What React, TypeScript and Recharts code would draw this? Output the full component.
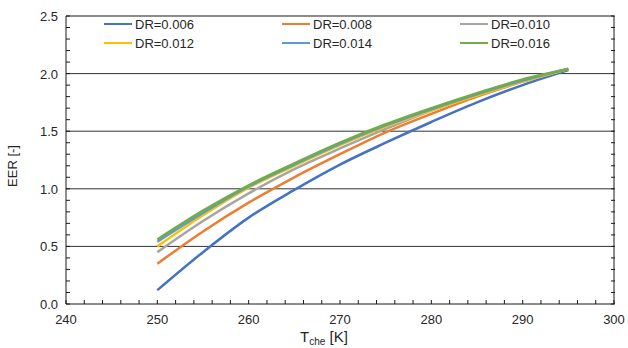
import { LineChart, Line, XAxis, YAxis, CartesianGrid, Label, ReferenceLine } from 'recharts';

const temps = [250, 255, 260, 265, 270, 275, 280, 285, 290, 295];
const dr006 = [0.12, 0.45, 0.75, 0.99, 1.21, 1.4, 1.58, 1.75, 1.9, 2.03];
const dr008 = [0.35, 0.63, 0.88, 1.1, 1.3, 1.49, 1.65, 1.8, 1.93, 2.04];
const dr010 = [0.45, 0.72, 0.96, 1.17, 1.35, 1.52, 1.68, 1.82, 1.94, 2.04];
const dr012 = [0.5, 0.77, 1.01, 1.2, 1.38, 1.54, 1.68, 1.81, 1.93, 2.04];
const dr014 = [0.54, 0.79, 1.02, 1.21, 1.39, 1.55, 1.69, 1.82, 1.94, 2.04];
const dr016 = [0.56, 0.81, 1.03, 1.22, 1.4, 1.56, 1.7, 1.83, 1.95, 2.04];

const xTicks = [240, 242, 244, 246, 248, 250, 252, 254, 256, 258, 260, 262, 264, 266, 268, 270, 272, 274, 276, 278, 280, 282, 284, 286, 288, 290, 292, 294, 296, 298, 300];
const xLabels = [240, 250, 260, 270, 280, 290, 300];
const yTicks = [0, 0.1, 0.2, 0.3, 0.4, 0.5, 0.6, 0.7, 0.8, 0.9, 1, 1.1, 1.2, 1.3, 1.4, 1.5, 1.6, 1.7, 1.8, 1.9, 2, 2.1, 2.2, 2.3, 2.4, 2.5];
const yLabels = [0, 0.5, 1, 1.5, 2, 2.5];
const gridValues = [0.5, 1, 1.5, 2];

const series = [
  { key: 'dr006', name: 'DR=0.006', color: '#4472C4', values: dr006 },
  { key: 'dr008', name: 'DR=0.008', color: '#ED7D31', values: dr008 },
  { key: 'dr010', name: 'DR=0.010', color: '#A5A5A5', values: dr010 },
  { key: 'dr012', name: 'DR=0.012', color: '#FFC000', values: dr012 },
  { key: 'dr014', name: 'DR=0.014', color: '#5B9BD5', values: dr014 },
  { key: 'dr016', name: 'DR=0.016', color: '#70AD47', values: dr016 },
];

const data = temps.map((t, i) => {
  const row: Record<string, number> = { t };
  series.forEach((s) => (row[s.key] = s.values[i]));
  return row;
});

const W = 628;
const H = 348;
const MARGIN = { top: 16, right: 13, bottom: 0, left: 26 };
const Y_AXIS_W = 40;
const PLOT_RIGHT = W - MARGIN.right;

const FONT = '"Liberation Sans", Arial, sans-serif';
const AXIS = '#1a1a1a';
const TEXT = '#262626';

const isLabel = (list: number[], v: number) => list.some((l) => Math.abs(l - v) < 1e-6);

// left ticks point inward; the mirrored ticks on the right frame are drawn here too
const LeftTick = (props: any) => {
  const { x, y, payload } = props;
  const v = payload.value;
  return (
    <g>
      <line x1={x} x2={x + 4} y1={y} y2={y} stroke={AXIS} />
      <line x1={PLOT_RIGHT - 4} x2={PLOT_RIGHT} y1={y} y2={y} stroke={AXIS} />
      {isLabel(yLabels, v) && (
        <text x={x - 8} y={y} dy={5} textAnchor="end" fill={TEXT} fontSize={13} fontFamily={FONT}>
          {v.toFixed(1)}
        </text>
      )}
    </g>
  );
};

const BottomTick = (props: any) => {
  const { x, y, payload } = props;
  const v = payload.value;
  return (
    <g>
      <line x1={x} x2={x} y1={y - 4} y2={y} stroke={AXIS} />
      {isLabel(xLabels, v) && (
        <text x={x} y={y + 20} textAnchor="middle" fill={TEXT} fontSize={13} fontFamily={FONT}>
          {v}
        </text>
      )}
    </g>
  );
};

const LegendBox = () => (
  <div
    style={{
      position: 'absolute',
      left: 104,
      top: 16,
      display: 'grid',
      gridTemplateColumns: '178px 178px 178px',
      rowGap: 3,
      fontFamily: FONT,
      fontSize: 13,
      color: TEXT,
      pointerEvents: 'none',
    }}
  >
    {series.map((s) => (
      <div key={s.key} style={{ display: 'flex', alignItems: 'center', height: 16 }}>
        <span style={{ display: 'inline-block', width: 28, height: 2.5, background: s.color, marginRight: 3 }} />
        {s.name}
      </div>
    ))}
  </div>
);

export default function App() {
  return (
    <div style={{ position: 'absolute', left: 0, top: 0, width: W, height: H, background: '#fff' }}>
      <LineChart width={W} height={H} data={data} margin={MARGIN}>
        <CartesianGrid vertical={false} horizontalValues={gridValues} stroke="#333333" strokeWidth={1} />
        <XAxis
          dataKey="t"
          type="number"
          domain={[240, 300]}
          ticks={xTicks}
          interval={0}
          tickSize={0}
          tickMargin={0}
          tickLine={false}
          tick={<BottomTick />}
          axisLine={{ stroke: AXIS }}
          height={44}
        >
          <Label
            content={(p: any) => {
              const vb = p.viewBox;
              return (
                <text x={vb.x + vb.width / 2 - 16} y={vb.y + 38} textAnchor="middle" fill={TEXT} fontSize={15} fontFamily={FONT}>
                  <tspan>T</tspan>
                  <tspan fontSize={10} dy={3}>che</tspan>
                  <tspan dy={-3}> [K]</tspan>
                </text>
              );
            }}
          />
        </XAxis>
        <YAxis
          type="number"
          domain={[0, 2.5]}
          ticks={yTicks}
          interval={0}
          tickSize={0}
          tickMargin={0}
          tickLine={false}
          tick={<LeftTick />}
          axisLine={{ stroke: AXIS }}
          width={Y_AXIS_W}
        >
          <Label
            content={(p: any) => {
              const vb = p.viewBox;
              const cy = vb.y + vb.height / 2 + 6;
              return (
                <text x={13} y={cy} transform={`rotate(-90 13 ${cy})`} textAnchor="middle" dy={4} fill={TEXT} fontSize={13} fontFamily={FONT}>
                  EER [-]
                </text>
              );
            }}
          />
        </YAxis>
        <YAxis
          yAxisId="right"
          orientation="right"
          type="number"
          domain={[0, 2.5]}
          tick={false}
          tickLine={false}
          axisLine={{ stroke: AXIS }}
          width={1}
        />
        <ReferenceLine y={2.5} stroke={AXIS} ifOverflow="visible" />
        {series.map((s) => (
          <Line
            key={s.key}
            dataKey={s.key}
            name={s.name}
            type="monotone"
            stroke={s.color}
            strokeWidth={2.5}
            dot={false}
            isAnimationActive={false}
          />
        ))}
      </LineChart>
      <LegendBox />
    </div>
  );
}
